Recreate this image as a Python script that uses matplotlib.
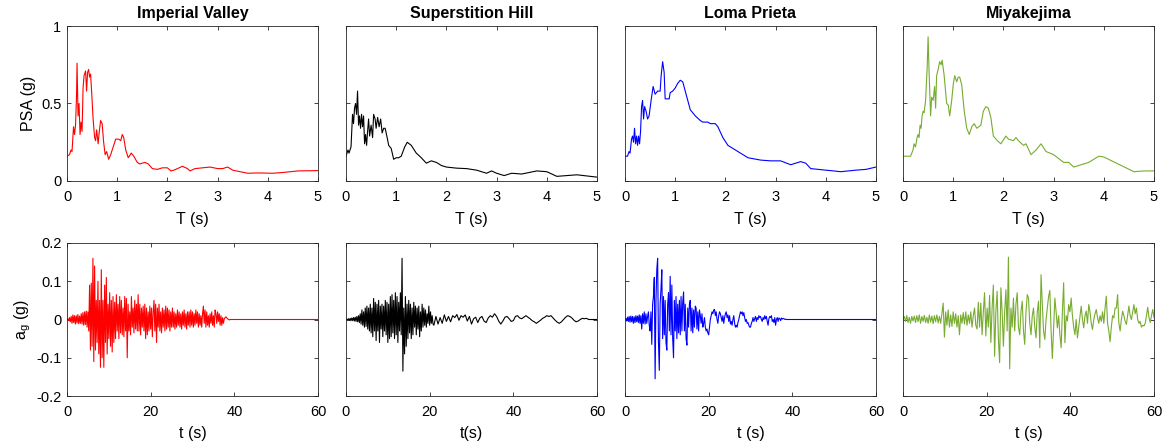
import numpy as np
import matplotlib.pyplot as plt

plt.rcParams['font.family'] = ['Liberation Sans', 'DejaVu Sans']
plt.rcParams['axes.unicode_minus'] = False

names = ['Imperial Valley', 'Superstition Hill', 'Loma Prieta', 'Miyakejima']
colors = ['#ff0000', '#000000', '#0000ff', '#77ac30']

# --- response spectra (period s, PSA g) ---
iv_T = [0, 0.05, 0.08, 0.1, 0.13, 0.15, 0.17, 0.19, 0.2, 0.22, 0.24, 0.26, 0.28, 0.3, 0.32,
        0.34, 0.37, 0.39, 0.41, 0.43, 0.45, 0.47, 0.49, 0.52, 0.55, 0.57, 0.59, 0.62, 0.64,
        0.67, 0.7, 0.73, 0.76, 0.79, 0.83, 0.87, 0.92, 0.97, 1.03, 1.07, 1.1, 1.13, 1.17,
        1.22, 1.28, 1.33, 1.4, 1.45, 1.55, 1.62, 1.7, 1.8, 1.9, 2.0, 2.07, 2.13, 2.2, 2.3,
        2.4, 2.45, 2.55, 2.7, 2.85, 3.0, 3.1, 3.2, 3.3, 3.45, 3.6, 3.8, 4.1, 4.3, 4.6, 5.0]
iv_psa = [0.16, 0.17, 0.2, 0.19, 0.35, 0.3, 0.36, 0.55, 0.76, 0.42, 0.5, 0.3, 0.38, 0.32, 0.6,
          0.68, 0.71, 0.58, 0.7, 0.72, 0.67, 0.69, 0.58, 0.4, 0.28, 0.26, 0.33, 0.24, 0.31,
          0.39, 0.37, 0.25, 0.17, 0.19, 0.14, 0.17, 0.22, 0.27, 0.27, 0.26, 0.3, 0.28, 0.2,
          0.15, 0.18, 0.16, 0.12, 0.11, 0.12, 0.11, 0.08, 0.075, 0.085, 0.085, 0.065, 0.07,
          0.08, 0.095, 0.08, 0.065, 0.08, 0.085, 0.09, 0.08, 0.08, 0.09, 0.07, 0.06, 0.05,
          0.052, 0.05, 0.055, 0.065, 0.067]

sh_T = [0, 0.04, 0.06, 0.1, 0.13, 0.15, 0.17, 0.19, 0.21, 0.23, 0.25, 0.27, 0.29, 0.31, 0.33,
        0.35, 0.37, 0.39, 0.41, 0.43, 0.45, 0.47, 0.5, 0.53, 0.55, 0.58, 0.6, 0.63, 0.66,
        0.69, 0.72, 0.75, 0.78, 0.82, 0.85, 0.9, 0.95, 1.0, 1.05, 1.1, 1.17, 1.22, 1.3, 1.4,
        1.5, 1.6, 1.7, 1.8, 1.9, 2.0, 2.2, 2.4, 2.6, 2.8, 2.9, 3.0, 3.15, 3.3, 3.5, 3.8,
        4.0, 4.2, 4.6, 5.0]
sh_psa = [0.16, 0.2, 0.18, 0.22, 0.43, 0.37, 0.47, 0.5, 0.43, 0.58, 0.36, 0.42, 0.34, 0.43,
          0.35, 0.42, 0.24, 0.3, 0.23, 0.32, 0.4, 0.29, 0.36, 0.28, 0.43, 0.4, 0.34, 0.41,
          0.35, 0.4, 0.31, 0.34, 0.34, 0.28, 0.23, 0.21, 0.14, 0.15, 0.15, 0.16, 0.22, 0.25,
          0.23, 0.18, 0.15, 0.115, 0.13, 0.12, 0.1, 0.09, 0.083, 0.08, 0.07, 0.05, 0.065,
          0.05, 0.035, 0.05, 0.045, 0.065, 0.06, 0.03, 0.04, 0.025]

lp_T = [0, 0.05, 0.08, 0.1, 0.13, 0.15, 0.17, 0.19, 0.21, 0.23, 0.25, 0.27, 0.29, 0.31, 0.33,
        0.35, 0.37, 0.39, 0.42, 0.45, 0.48, 0.52, 0.56, 0.6, 0.65, 0.7, 0.72, 0.75, 0.78,
        0.8, 0.85, 0.88, 0.9, 0.95, 1.0, 1.05, 1.1, 1.15, 1.2, 1.3, 1.4, 1.5, 1.55, 1.65,
        1.7, 1.8, 1.85, 1.95, 2.05, 2.2, 2.45, 2.7, 2.9, 3.1, 3.3, 3.5, 3.6, 3.7, 4.0, 4.3,
        4.6, 4.8, 5.0]
lp_psa = [0.16, 0.16, 0.19, 0.18, 0.27, 0.29, 0.25, 0.34, 0.24, 0.29, 0.23, 0.29, 0.24, 0.32,
          0.48, 0.52, 0.4, 0.48, 0.45, 0.4, 0.42, 0.52, 0.61, 0.56, 0.58, 0.58, 0.68, 0.77,
          0.7, 0.53, 0.53, 0.53, 0.57, 0.58, 0.6, 0.63, 0.65, 0.64, 0.58, 0.46, 0.42, 0.39,
          0.38, 0.38, 0.37, 0.37, 0.35, 0.28, 0.23, 0.2, 0.15, 0.135, 0.13, 0.13, 0.105,
          0.125, 0.115, 0.08, 0.07, 0.06, 0.07, 0.075, 0.09]

mk_T = [0, 0.15, 0.2, 0.22, 0.25, 0.28, 0.3, 0.32, 0.34, 0.36, 0.38, 0.4, 0.42, 0.45, 0.48,
        0.5, 0.52, 0.55, 0.57, 0.6, 0.63, 0.65, 0.67, 0.7, 0.73, 0.76, 0.78, 0.82, 0.87,
        0.9, 0.93, 0.97, 1.0, 1.03, 1.07, 1.1, 1.13, 1.17, 1.22, 1.27, 1.32, 1.37, 1.42,
        1.47, 1.55, 1.6, 1.65, 1.7, 1.75, 1.8, 1.88, 1.95, 2.05, 2.1, 2.2, 2.25, 2.3, 2.4,
        2.45, 2.55, 2.65, 2.75, 2.85, 3.0, 3.2, 3.3, 3.4, 3.7, 3.8, 3.9, 4.0, 4.6, 4.8, 5.0]
mk_psa = [0.16, 0.16, 0.2, 0.24, 0.22, 0.28, 0.3, 0.28, 0.36, 0.34, 0.42, 0.45, 0.44, 0.52,
          0.72, 0.93, 0.7, 0.42, 0.54, 0.52, 0.61, 0.47, 0.68, 0.72, 0.77, 0.75, 0.78, 0.68,
          0.5, 0.49, 0.42, 0.52, 0.62, 0.68, 0.64, 0.67, 0.67, 0.62, 0.45, 0.34, 0.3, 0.35,
          0.37, 0.34, 0.36, 0.45, 0.48, 0.47, 0.41, 0.29, 0.26, 0.24, 0.29, 0.27, 0.26, 0.28,
          0.26, 0.23, 0.24, 0.17, 0.2, 0.24, 0.19, 0.17, 0.12, 0.12, 0.09, 0.12, 0.14, 0.16,
          0.155, 0.06, 0.065, 0.065]

# --- ground accelerations (g) ---
iv_dt = 0.2
iv_acc = [0, 0.002, -0.003, 0.005, -0.006, 0.008, -0.01, 0.012, -0.008, 0.01, -0.012, 0.01,
          -0.009, 0.013, -0.011, 0.009, -0.01, 0.015, -0.012, 0.018, -0.015, 0.02, -0.013,
          0.022, -0.02,
          0.02, -0.03, 0.09, -0.08, 0.095, -0.07, 0.16, -0.11, 0.14, -0.08, 0.05, -0.06, 0.1,
          -0.09, 0.05, -0.125, 0.13, -0.1, 0.05, -0.125, 0.09, -0.06, 0.11, -0.09, 0.04,
          -0.05, 0.07, -0.07, 0.05, -0.085, 0.06, -0.06, 0.045, -0.05, 0.065, -0.03, 0.04,
          -0.05, 0.06, -0.035, 0.05, -0.04, 0.03, -0.045, 0.06, -0.03, 0.055, -0.1, 0.04, -0.03,
          0.02, -0.04, 0.06, -0.02, 0.03, -0.035, 0.05, -0.025, 0.04, -0.03, 0.065, -0.03, 0.04,
          -0.04, 0.03, -0.02, 0.035, -0.03, 0.04, -0.05, 0.03, -0.04, 0.02, -0.03, 0.035,
          -0.025, 0.03, -0.045, 0.02, 0.05, -0.03, 0.04, -0.06, 0.03, -0.02, 0.04, -0.03, 0.02,
          -0.035, 0.03, -0.02, 0.025, -0.03, 0.035, -0.025, 0.03, -0.02, 0.025, -0.03, 0.02,
          -0.02, 0.03, -0.02, 0.02, -0.025, 0.015, -0.02, 0.025, -0.015, 0.02, -0.02, 0.015,
          -0.025, 0.02, -0.015, 0.025, -0.02, 0.015, -0.025, 0.02, -0.015, 0.02, -0.02, 0.025,
          -0.015,
          0.02, -0.02, 0.015, -0.015, 0.025, -0.01, 0.02, -0.02, 0.015, -0.015, 0.01, -0.02,
          0.015, 0.035, -0.01, 0.025, -0.02, 0.02, -0.015, 0.01, -0.02, 0.015, -0.01, 0.02,
          -0.015,
          0.01, -0.02, 0.025, 0.015, -0.01, 0.02, -0.005, 0.015, -0.015, 0.01, -0.015, 0.005,
          -0.01, 0.002, 0.005, 0.007, 0.004, 0.002, 0, -0.001, 0, 0, 0, 0, 0]

sh_dt1 = 0.2
sh_acc1 = [0, 0.001, -0.001, 0.002, -0.002, 0.003, -0.003, 0.004, -0.003, 0.005, -0.004,
           0.006, -0.005, 0.008, -0.006,
           0.01, -0.008, 0.015, -0.012, 0.025, -0.015, 0.02, -0.02, 0.03, -0.018, 0.035,
           -0.025, 0.03, -0.03, 0.04,
           -0.035, 0.03, -0.045, 0.055, -0.03, 0.045, -0.055, 0.04, -0.03, 0.05, -0.06, 0.035,
           -0.025, 0.04, -0.045,
           0.035, -0.03, 0.05, -0.04, 0.045, -0.06, 0.04, -0.05, 0.06, -0.045, 0.065, -0.035,
           0.05, -0.05, 0.07,
           -0.04, 0.06, -0.06, 0.045, -0.03, 0.07, -0.04, 0.16, -0.135, 0.03, -0.09, 0.06,
           -0.07, 0.04, -0.05,
           0.05, -0.035, 0.04, -0.05, 0.03, -0.04, 0.045, -0.02, 0.035, -0.04, 0.03, -0.025,
           0.035, -0.045, 0.02,
           -0.03, 0.04, -0.02, 0.03, -0.015, 0.025, -0.02, 0.015, -0.01, 0.035, -0.015, 0.02,
           -0.01, 0.01, -0.012]
sh_t2_start = 21.0
sh_dt2 = 0.5
sh_acc2 = [-0.015, 0.008, -0.012, 0.005, -0.01, 0.012, -0.005, 0.008, -0.006, 0.01, 0.005,
           0.013, -0.002, 0.01, 0.006, 0.012, -0.004, 0.008, -0.012, 0.002, 0.006, -0.008,
           0.004, 0.008, -0.004, -0.008, 0.004, 0.01, 0.006, 0.015, 0.008, -0.004, -0.012,
           -0.004, 0.006, 0.008, 0.002, -0.005, -0.003, 0.008, 0.01, 0.004, 0.002, 0.006,
           0.01, 0.006, 0.002, -0.003, -0.006, -0.01, -0.006, -0.002, 0.003, 0.006, 0.01,
           0.008, 0.01, 0.004, -0.002, -0.007, -0.01, -0.006, 0.0, 0.006, 0.01, 0.008, 0.004,
           -0.002, -0.006, -0.004, 0.0, 0.003, 0.002, 0.003, 0.0, 0.0, 0.0, 0.0, 0.0]

lp_dt = 0.2
lp_acc = [0, 0.003, -0.004, 0.006, -0.005, 0.008, -0.007, 0.009, -0.006, 0.008, -0.01, 0.007,
          -0.008, 0.01, -0.006, 0.009, -0.008, 0.012, -0.01, 0.01, -0.025, 0.015, -0.01, 0.02,
          -0.012, 0.015, -0.01, 0.008, 0.02, -0.015,
          -0.03, 0.02, -0.065, 0.04, 0.06, 0.11, -0.155, 0.05, 0.13, 0.16, -0.06, -0.133, 0.04,
          0.08, 0.13, -0.05, 0.06, -0.04, 0.05, -0.06, -0.08, 0.04, 0.07, -0.03, 0.113, -0.04,
          0.09, -0.05, -0.1, 0.05,
          -0.03, 0.06, -0.05, 0.04, -0.035, 0.05, -0.04, 0.06, -0.03, 0.045, 0.072, -0.03,
          0.04, -0.05, -0.067, 0.03, -0.02, 0.04, 0.05, -0.03, 0.03, -0.035, 0.025, -0.02,
          0.035, 0.03, -0.025, 0.02, -0.03, 0.025,
          0.01, -0.01, 0.015, -0.02, -0.01, 0.005, -0.02, -0.03, -0.025, -0.035, -0.04, -0.02,
          0.0, 0.01, 0.02, 0.015, 0.025, 0.026, 0.01, 0.02, 0.0, -0.01, 0.01, 0.02, 0.015,
          0.005, -0.005, 0.01, -0.01, 0.005,
          0.015, 0.02, 0.005, 0.012, -0.005, 0.01, -0.012, -0.005, -0.015, 0.0, 0.01, -0.01,
          -0.02, -0.015, -0.02, -0.008, 0.0, 0.01, 0.02, 0.015, 0.02, 0.01, 0.018, 0.005,
          -0.005, 0.0, -0.01, -0.008, -0.015, -0.02,
          -0.02, -0.01, -0.005, 0.005, -0.005, 0.002, 0.008, -0.005, 0.005, 0.0, 0.01, 0.005,
          0.008, 0.0, -0.005, 0.005, 0.0, 0.01, 0.002, 0.008, -0.005, -0.015, 0.002, 0.008,
          0.005, 0.01, -0.005, 0.0, -0.008, 0.005,
          -0.015, 0.0, 0.005, -0.005, 0.004, 0.002, -0.003, 0.004, 0.001, 0.003, 0.002, 0.0,
          0.001, 0.0, 0, 0, 0, 0, 0, 0]

mk_dt = 0.3
mk_acc = [0, 0.008, -0.005, 0.01, -0.008, 0.006, -0.01, 0.008, -0.004, 0.009,
          -0.008, 0.01, -0.006, 0.012, -0.01, 0.008, -0.005, 0.011, -0.008, 0.006,
          -0.01, 0.012, -0.007, 0.009, -0.011, 0.01, -0.006, 0.012, -0.009, 0.008,
          -0.01, 0.015, 0.043, -0.046, 0.02, -0.015, 0.025, -0.02, 0.012, -0.018,
          0.02, -0.01, 0.015, -0.02, 0.01, -0.04, 0.012, -0.01, 0.018, -0.012,
          0.02, -0.015, 0.012, -0.01, 0.02, -0.02, 0.01, 0.03, -0.015, -0.025,
          0.045, -0.02, 0.043, -0.04, 0.02, 0.07, -0.043, 0.03, -0.02, 0.063,
          -0.06, 0.03, 0.09, -0.096, 0.02, 0.074, -0.05, -0.113, 0.083, 0.02,
          -0.07, 0.02, 0.078, -0.03, 0.163, -0.129, 0.03, -0.02, 0.056, -0.03,
          0.04, 0.07, -0.02, -0.04, 0.02, 0.048, -0.03, -0.065, 0.02, 0.065,
          0.056, -0.01, -0.04, 0.01, 0.03, -0.02, -0.048, 0.02, 0.048, -0.074,
          0.117, 0.04, -0.03, -0.052, 0.0, 0.03, 0.06, 0.076, -0.03, -0.102,
          -0.02, 0.056, 0.02, -0.022, 0.01, -0.039, -0.074, 0.02, 0.096, -0.061,
          0.01, -0.004, 0.039, 0.02, 0.056, 0.01, -0.02, -0.04, 0.0, -0.048,
          -0.02, 0.01, 0.035, 0.0, -0.022, 0.01, 0.022, -0.01, 0.039, 0.02,
          -0.01, -0.026, 0.0, 0.015, 0.026, 0.005, -0.01, 0.01, -0.005, 0.02,
          -0.01, 0.03, 0.061, -0.01, -0.03, -0.058, -0.02, 0.01, 0.004, 0.03,
          0.03, 0.065, -0.01, -0.03, 0.0, 0.022, 0.01, -0.005, -0.013, 0.01,
          0.035, 0.01, 0.0, 0.02, 0.039, 0.015, 0.03, 0.0, -0.01, -0.005,
          -0.02, -0.015, -0.017, -0.01, 0.01, 0.032, 0.005, -0.008, 0.01, 0.026,
          0.005]

t_end = 60.0

spectra = [(iv_T, iv_psa), (sh_T, sh_psa), (lp_T, lp_psa), (mk_T, mk_psa)]

iv_t = np.r_[np.arange(len(iv_acc)) * iv_dt, t_end]
iv_a = np.r_[iv_acc, 0.0]
sh_t = np.r_[np.arange(len(sh_acc1)) * sh_dt1, sh_t2_start + np.arange(len(sh_acc2)) * sh_dt2, t_end]
sh_a = np.r_[sh_acc1, sh_acc2, 0.0]
lp_t = np.r_[np.arange(len(lp_acc)) * lp_dt, t_end]
lp_a = np.r_[lp_acc, 0.0]
mk_t = np.arange(len(mk_acc)) * mk_dt
mk_a = np.array(mk_acc)
records = [(iv_t, iv_a), (sh_t, sh_a), (lp_t, lp_a), (mk_t, mk_a)]
time_labels = ['t (s)', 't(s)', 't (s)', 't (s)']

W, H = 1168, 444
fig = plt.figure(figsize=(W / 100, H / 100), dpi=100)
lefts = [67, 346, 625, 903]
width = 251

axcol = '#262626'

def style(ax):
    for s in ax.spines.values():
        s.set_linewidth(0.6)
        s.set_color(axcol)
    ax.tick_params(direction='in', top=True, right=True, length=3, width=0.6,
                   colors=axcol, labelcolor='black', labelsize=10.5)
    ax.tick_params(axis='x', pad=6.5)
    ax.tick_params(axis='y', pad=4)

for i in range(4):
    ax = fig.add_axes([lefts[i] / W, 1 - 181 / H, width / W, 155 / H])
    T, psa = spectra[i]
    ax.plot(T, psa, color=colors[i], lw=0.8)
    ax.set_xlim(0, 5)
    ax.set_ylim(0, 1)
    ax.set_xticks([0, 1, 2, 3, 4, 5])
    ax.set_yticks([0, 0.5, 1])
    if i == 0:
        ax.set_yticklabels(['0', '0.5', '1'])
        ax.set_ylabel('PSA (g)', fontsize=11.5)
    else:
        ax.set_yticklabels([])
    ax.set_xlabel('T (s)', fontsize=11.5, labelpad=5.5)
    ax.set_title(names[i], fontsize=11.5, fontweight='bold', pad=6)
    style(ax)

    ax2 = fig.add_axes([lefts[i] / W, 1 - 396 / H, width / W, 153 / H])
    t, a = records[i]
    ax2.plot(t, a, color=colors[i], lw=0.8)
    ax2.set_xlim(0, 60)
    ax2.set_ylim(-0.2, 0.2)
    ax2.set_xticks([0, 20, 40, 60])
    ax2.set_yticks([-0.2, -0.1, 0, 0.1, 0.2])
    if i == 0:
        ax2.set_yticklabels(['-0.2', '-0.1', '0', '0.1', '0.2'])
        ax2.set_ylabel(r'a$_\mathregular{g}$ (g)', fontsize=11.5, labelpad=2)
    else:
        ax2.set_yticklabels([])
    ax2.set_xlabel(time_labels[i], fontsize=11.5, labelpad=5)
    style(ax2)

fig.savefig('out.png', dpi=100)
